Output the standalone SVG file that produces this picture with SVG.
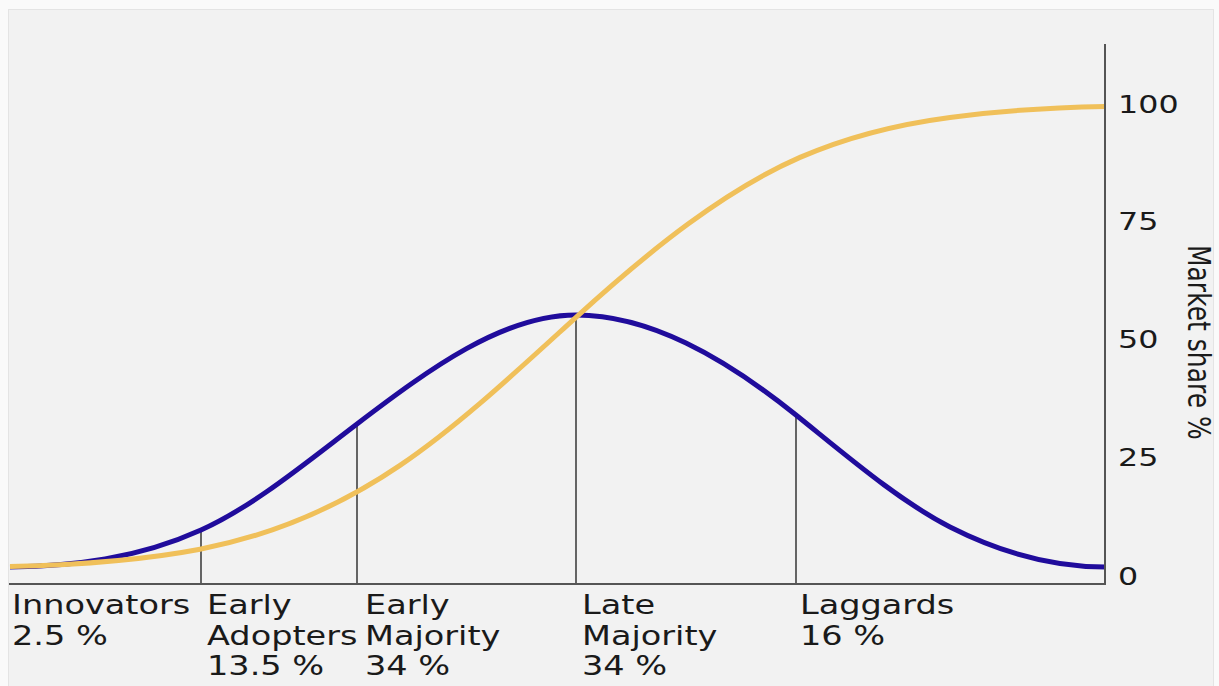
<svg xmlns="http://www.w3.org/2000/svg" width="1219" height="686" viewBox="0 0 1219 686">
<style>
.lbl{font-family:"DejaVu Sans","Liberation Sans",sans-serif;font-size:26px;fill:#1a1a1a}
.tick{font-family:"DejaVu Sans","Liberation Sans",sans-serif;font-size:25px;fill:#1a1a1a}
.axis{stroke:#555;stroke-width:2;fill:none}
.sep{stroke:#555;stroke-width:1.8;fill:none}
.curve{fill:none;stroke-width:5;stroke-linecap:butt;stroke-linejoin:round}
</style>
<rect x="0" y="0" width="1219" height="686" fill="#fafafa"/>
<rect x="8.5" y="9.5" width="1205" height="690" fill="#f2f2f2" stroke="#e4e4e4" stroke-width="1"/>
<g id="connectors">
<line class="sep" x1="201" y1="530" x2="201" y2="584"/>
<line class="sep" x1="357" y1="424" x2="357" y2="584"/>
<line class="sep" x1="576" y1="315" x2="576" y2="584"/>
<line class="sep" x1="796" y1="415" x2="796" y2="584"/>
<path id="bell" class="curve" stroke="#200c9c" d="M 10,567 C 73,566 137,559 201,530 C 253,506.6 305,463.5 357,424 C 430,368.5 503,315 576,315 C 649,315 723,356.4 796,415 C 847,456 899,500.8 950,527 C 1002,553.4 1053,567 1105,567"/>
<path id="scurve" class="curve" stroke="#f0c05a" d="M 10,566.5 C 73.3,565 136.7,561.4 200,549.2 C 266.7,536.4 333.3,510.7 400,465.4 C 458.7,425.6 517.3,370.7 576,317.3 C 650.7,249.4 725.3,189.9 800,157.4 C 850,135.6 900,124 950,117.4 C 1001.7,110.5 1053.3,107.5 1105,106.5"/>
<polyline class="axis" points="9,584 1105,584 1105,44"/>
</g>
<g id="innovators">
<text class="lbl" transform="translate(12,614) scale(1.29,1)">Innovators</text>
<text class="lbl" transform="translate(12,645) scale(1.29,1)">2.5 %</text>
</g>
<g id="early-adopters">
<text class="lbl" transform="translate(207,614) scale(1.29,1)">Early</text>
<text class="lbl" transform="translate(207,645) scale(1.29,1)">Adopters</text>
<text class="lbl" transform="translate(207,675) scale(1.29,1)">13.5 %</text>
</g>
<g id="early-majority">
<text class="lbl" transform="translate(365,614) scale(1.29,1)">Early</text>
<text class="lbl" transform="translate(365,645) scale(1.29,1)">Majority</text>
<text class="lbl" transform="translate(365,675) scale(1.29,1)">34 %</text>
</g>
<g id="late-majority">
<text class="lbl" transform="translate(582,614) scale(1.29,1)">Late</text>
<text class="lbl" transform="translate(582,645) scale(1.29,1)">Majority</text>
<text class="lbl" transform="translate(582,675) scale(1.29,1)">34 %</text>
</g>
<g id="laggards">
<text class="lbl" transform="translate(800,614) scale(1.29,1)">Laggards</text>
<text class="lbl" transform="translate(800,645) scale(1.29,1)">16 %</text>
</g>
<g id="y-axis-labels">
<text class="tick" transform="translate(1118,112.5) scale(1.27,1)">100</text>
<text class="tick" transform="translate(1118,229.5) scale(1.27,1)">75</text>
<text class="tick" transform="translate(1118,348) scale(1.27,1)">50</text>
<text class="tick" transform="translate(1118,466) scale(1.27,1)">25</text>
<text class="tick" transform="translate(1118,584.5) scale(1.27,1)">0</text>
<text class="tick" transform="translate(1188,245) scale(1.26,1) rotate(90)">Market share %</text>
</g>
</svg>
